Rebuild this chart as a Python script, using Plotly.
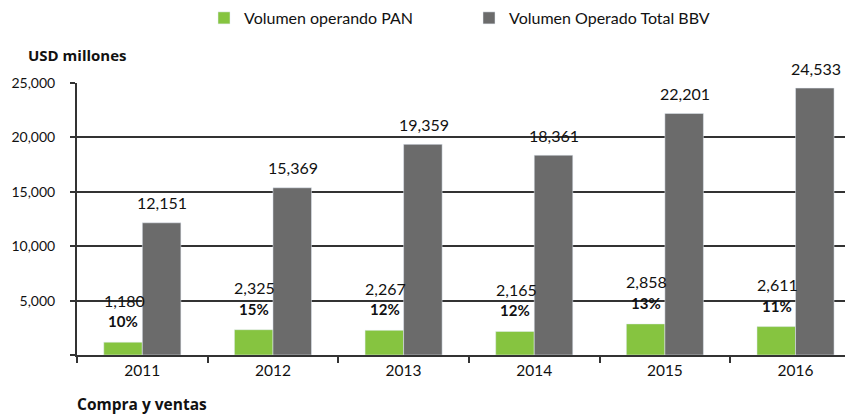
import plotly.graph_objects as go

years = ["2011", "2012", "2013", "2014", "2015", "2016"]
pan = [1180, 2325, 2267, 2165, 2858, 2611]
bbv = [12151, 15369, 19359, 18361, 22201, 24533]
pct = ["10%", "15%", "12%", "12%", "13%", "11%"]

GREEN = "#86C440"
GRAY = "#6B6B6B"
FONT = "Lato"
BOLD_FONT = "Open Sans"

fig = go.Figure()
fig.add_trace(go.Bar(x=years, y=pan, name="Volumen operando PAN", marker_color=GREEN))
fig.add_trace(go.Bar(x=years, y=bbv, name="Volumen Operado Total BBV", marker_color=GRAY))

anns = []
for i, (v, p) in enumerate(zip(pan, pct)):
    anns.append(dict(x=i, y=v, text=f"{v:,}", showarrow=False, xshift=-18, yshift=42,
                     yanchor="middle", font=dict(size=16, color="#111")))
    anns.append(dict(x=i, y=v, text=f"<b>{p}</b>", showarrow=False, xshift=-19, yshift=21,
                     yanchor="middle", font=dict(size=15, color="#111")))
for i, v in enumerate(bbv):
    anns.append(dict(x=i, y=v, text=f"{v:,}", showarrow=False, xshift=20, yshift=20,
                     yanchor="middle", font=dict(size=16, color="#111")))
anns.append(dict(xref="paper", yref="paper", x=-0.066, y=1.103, xanchor="left", yanchor="middle",
                 text="<b>USD millones</b>", showarrow=False,
                 font=dict(size=15, color="#111", family=BOLD_FONT)))
anns.append(dict(xref="paper", yref="paper", x=-0.002, y=-0.18, xanchor="left", yanchor="middle",
                 text="<b>Compra y ventas</b>", showarrow=False,
                 font=dict(size=15.5, color="#111", family=BOLD_FONT)))

fig.update_layout(
    width=853, height=415,
    margin=dict(l=69, r=8, t=75, b=68, autoexpand=False),
    paper_bgcolor="white", plot_bgcolor="white",
    font=dict(family=FONT, size=15, color="#111"),
    barmode="group", bargap=0.41, bargroupgap=0,
    showlegend=True,
    legend=dict(orientation="h", x=196 / 853, y=1 - 10 / 415, xref="container", yref="container",
                xanchor="left", yanchor="middle",
                font=dict(size=16), itemwidth=30, tracegroupgap=0,
                entrywidth=220, entrywidthmode="pixels"),
    annotations=anns,
)
fig.update_xaxes(type="category", range=[-0.5, 5.44], showline=True, linecolor="#333", linewidth=2,
                 ticks="outside", tickson="boundaries", ticklen=6, tickcolor="#333", tickwidth=1.5,
                 tickfont=dict(size=15.5), showgrid=False, automargin=False)
fig.update_yaxes(range=[0, 25000], tickvals=[0, 5000, 10000, 15000, 20000, 25000],
                 ticktext=["", "5,000", "10,000", "15,000", "20,000", "25,000"],
                 showline=True, linecolor="#333", linewidth=2, ticks="outside", ticklen=5,
                 tickcolor="#333", tickwidth=1.5, showgrid=True, gridcolor="#333", gridwidth=1.5,
                 zeroline=False, tickfont=dict(size=14), ticklabelstandoff=12, automargin=False)

fig.write_html("out.html")
